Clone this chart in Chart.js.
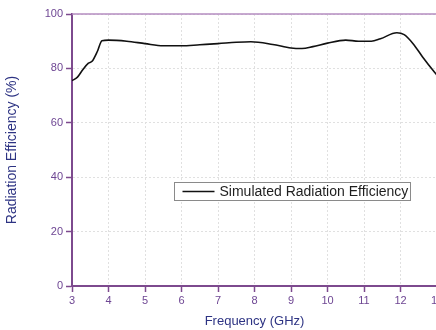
<!DOCTYPE html>
<html>
<head>
<meta charset="utf-8">
<script src="https://cdn.jsdelivr.net/npm/chart.js@4/dist/chart.umd.min.js"></script>
<style>
html,body{margin:0;padding:0;background:#fff;overflow:hidden;width:436px;height:330px;}
#wrap{position:relative;width:470px;height:330px;}
canvas{display:block;}
</style>
</head>
<body>
<div id="wrap"><canvas id="c" width="470" height="330"></canvas></div>
<script>
const seriesLabel = "Simulated Radiation Efficiency";
const frequencyGHz = [3.0, 3.15, 3.3, 3.45, 3.55, 3.7, 3.82, 4.0, 4.5, 5.0, 5.5, 6.0, 6.5, 7.0, 7.5, 7.9, 8.5, 9.0, 9.3, 9.6, 10.0, 10.5, 10.85, 11.2, 11.45, 11.9, 12.1, 12.35, 12.6, 12.95, 13.0];
const efficiency = [75.5, 76.8, 79.6, 81.9, 82.6, 86.4, 90.2, 90.4, 90.0, 89.1, 88.3, 88.3, 88.7, 89.1, 89.6, 89.8, 88.8, 87.5, 87.3, 88.0, 89.3, 90.4, 90.0, 90.0, 90.9, 93.1, 92.4, 89.0, 84.3, 78.3, 77.5];
const xTitle = "Frequency (GHz)";
const yTitle = "Radiation Efficiency (%)";

const axisColor = '#7d4a8e';
const tickTextColor = '#6e4693';
const titleColor = '#2d3383';
const gridColor = '#e0e0e0';

const frameAndLegend = {
  id: 'frameAndLegend',
  afterDatasetsDraw(chart) {
    const {ctx, chartArea} = chart;
    ctx.save();
    ctx.strokeStyle = '#b58cc0';
    ctx.lineWidth = 1.5;
    ctx.beginPath();
    ctx.moveTo(chartArea.left, chartArea.top);
    ctx.lineTo(chartArea.right, chartArea.top);
    ctx.stroke();
    const ds = chart.data.datasets[0];
    const bx = 174.5, by = 182.5, bw = 236, bh = 18;
    ctx.fillStyle = '#fff';
    ctx.fillRect(bx, by, bw, bh);
    ctx.strokeStyle = '#8a8a8a';
    ctx.lineWidth = 1;
    ctx.strokeRect(bx, by, bw, bh);
    ctx.strokeStyle = ds.borderColor;
    ctx.lineWidth = 1.6;
    ctx.beginPath();
    ctx.moveTo(bx + 8, by + bh / 2);
    ctx.lineTo(bx + 40, by + bh / 2);
    ctx.stroke();
    ctx.fillStyle = '#1e1e1e';
    ctx.font = '14px "Liberation Sans", Arial, sans-serif';
    ctx.textBaseline = 'middle';
    ctx.fillText(ds.label, bx + 45, by + bh / 2 + 0.5);
    ctx.restore();
  }
};

new Chart(document.getElementById('c'), {
  type: 'line',
  data: {
    datasets: [{
      label: seriesLabel,
      data: frequencyGHz.map((f, i) => ({x: f, y: efficiency[i]})),
      borderColor: '#111111',
      borderWidth: 1.6,
      pointRadius: 0,
      tension: 0.4,
      cubicInterpolationMode: 'monotone',
      fill: false
    }]
  },
  options: {
    responsive: false,
    animation: false,
    devicePixelRatio: 1,
    layout: {padding: {left: 0, top: 14, right: 33, bottom: 0}},
    plugins: {legend: {display: false}, tooltip: {enabled: false}},
    scales: {
      x: {
        type: 'linear', min: 3, max: 13,
        afterFit(s) { s.height = 44; },
        ticks: {stepSize: 1, color: tickTextColor, padding: 2, maxRotation: 0,
          font: {family: '"Liberation Sans", Arial, sans-serif', size: 11}},
        grid: {color: gridColor, tickColor: axisColor, tickLength: 6, drawTicks: true, lineWidth: 1, tickWidth: 1.5},
        border: {color: axisColor, width: 2, dash: [2, 2]},
        title: {display: true, text: xTitle, color: titleColor, padding: {top: 2, bottom: 1},
          font: {family: '"Liberation Sans", Arial, sans-serif', size: 13}}
      },
      y: {
        min: 0, max: 100,
        afterFit(s) { s.width = 72; },
        ticks: {stepSize: 20, color: tickTextColor, padding: 3,
          font: {family: '"Liberation Sans", Arial, sans-serif', size: 11}},
        grid: {color: gridColor, tickColor: axisColor, tickLength: 6, lineWidth: 1, tickWidth: 1.5},
        border: {color: axisColor, width: 2, dash: [2, 2]},
        title: {display: true, text: yTitle, color: titleColor, padding: {top: 4, bottom: 4},
          font: {family: '"Liberation Sans", Arial, sans-serif', size: 14}}
      }
    }
  },
  plugins: [frameAndLegend]
});
</script>
</body>
</html>
